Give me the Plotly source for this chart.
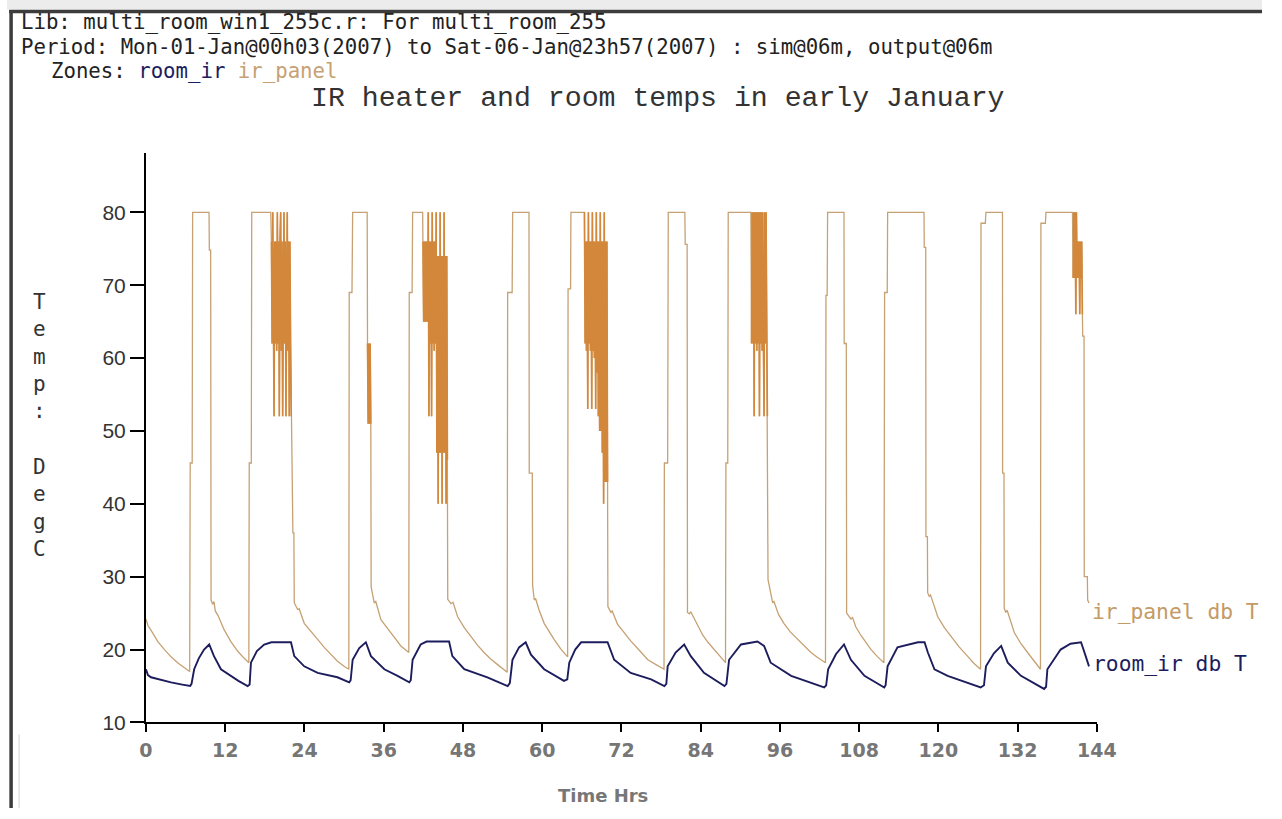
import plotly.graph_objects as go

W, H = 1282, 819
# the photographed page comes out slightly shrunk; positions below are wanted picture pixels,
# px()/py() undo that shrink (measured from earlier renders)
SX, AX = 0.98, 5.9
SY, AY = 0.988, -0.5

# output timestep (hours) used inside the oscillating stretches of ir_panel
STEP = 0.1

x_ticks = [0, 12, 24, 36, 48, 60, 72, 84, 96, 108, 120, 132, 144]
y_ticks = [10, 20, 30, 40, 50, 60, 70, 80]

# ir_panel db T, hours / degC (smooth parts + steps)
panel_env = [
    (0.0, 24.2), (0.3, 23.3), (0.8, 22.6), (1.8, 21.1), (2.8, 20.0), (3.8, 19.0), (4.8, 18.2), (5.8, 17.5), (6.62, 17.0),
    (6.7, 45.6), (7.0, 45.6), (7.07, 80.0), (9.55, 80.0), (9.6, 74.8), (9.8, 74.8), (9.86, 26.8), (10.1, 26.2), (10.3, 26.6),
    (10.5, 25.3), (10.9, 24.7), (11.85, 22.7), (12.86, 21.1), (13.87, 19.8), (14.88, 18.8), (15.58, 18.2),
    (15.64, 45.6), (15.95, 45.6), (16.02, 80.0), (18.9, 80.0),
    (22.25, 36.0), (22.4, 36.0), (22.46, 26.4), (22.97, 25.5), (23.2, 25.6), (23.97, 23.6), (25.0, 22.4), (26.0, 21.4),
    (27.0, 20.3), (28.0, 19.3), (29.0, 18.4), (30.0, 17.7), (30.72, 17.3),
    (30.78, 69.0), (31.2, 69.0), (31.3, 80.0), (33.5, 80.0),
    (34.1, 28.6), (34.57, 26.4), (34.8, 26.6), (35.58, 24.1), (37.1, 22.3), (38.6, 20.5), (39.8, 19.6),
    (39.87, 69.0), (40.3, 69.0), (40.38, 80.0), (41.9, 80.0),
    (45.7, 26.9), (46.2, 26.3), (46.5, 26.5), (47.2, 24.5), (48.2, 23.0), (49.2, 21.8), (50.2, 20.6), (51.2, 19.6),
    (52.2, 18.7), (53.3, 17.9), (54.7, 16.9),
    (54.77, 69.0), (55.45, 69.0), (55.53, 80.0), (58.0, 80.0), (58.04, 44.2), (58.5, 44.2), (58.55, 28.8), (58.8, 26.8),
    (59.0, 27.0), (59.5, 25.5), (60.3, 23.6), (61.0, 22.5), (61.8, 21.4), (62.8, 20.1), (63.85, 19.0),
    (63.92, 69.5), (64.3, 69.5), (64.35, 80.0), (66.3, 80.0),
    (69.95, 25.9), (70.4, 25.1), (70.6, 25.3), (71.4, 23.5), (72.4, 22.3), (73.4, 21.2), (74.7, 19.9), (76.0, 18.6),
    (77.3, 17.9), (78.45, 17.3),
    (78.5, 45.6), (79.0, 45.6), (79.09, 80.0), (81.6, 80.0), (81.66, 75.6), (81.95, 75.6), (82.0, 25.1), (82.3, 24.9),
    (82.5, 25.2), (83.5, 23.3), (84.3, 22.0), (85.1, 21.0), (86.6, 19.4), (87.76, 18.2),
    (87.82, 45.6), (88.1, 45.6), (88.17, 80.0), (91.6, 80.0),
    (94.2, 29.6), (94.9, 26.4), (95.1, 26.6), (95.8, 24.8), (96.6, 23.6), (97.6, 22.4), (98.7, 21.4), (99.7, 20.5),
    (100.7, 19.6), (101.7, 18.9), (102.9, 18.2),
    (102.97, 68.6), (103.15, 68.6), (103.22, 80.0), (105.7, 80.0), (105.73, 62.0), (106.05, 62.0), (106.1, 25.0),
    (106.75, 24.2), (107.0, 24.4), (107.5, 23.1), (108.3, 21.9), (109.0, 21.0), (109.8, 20.0), (110.8, 19.0), (111.75, 18.2),
    (111.85, 69.0), (112.25, 69.0), (112.31, 80.0), (117.82, 80.0), (117.85, 75.2), (118.08, 75.2), (118.11, 35.5),
    (118.33, 35.5), (118.37, 27.8), (118.6, 27.3), (118.8, 27.5), (119.9, 24.5), (120.9, 23.0), (121.9, 21.8),
    (123.1, 20.4), (124.4, 19.1), (125.4, 18.1), (126.38, 17.3),
    (126.45, 78.5), (127.1, 78.5), (127.19, 80.0), (129.7, 80.0), (129.72, 44.2), (129.93, 44.2), (129.96, 25.7),
    (130.2, 25.1), (130.4, 25.4), (131.5, 22.3), (132.5, 20.8), (133.5, 19.6), (134.5, 18.4), (135.45, 17.3),
    (135.52, 78.5), (136.2, 78.5), (136.28, 80.0), (140.3, 80.0),
    (141.85, 63.0), (142.05, 63.0), (142.08, 30.0), (142.55, 30.0), (142.6, 26.8), (142.8, 26.4),
]

# heater cycling stretches (one value per output step)
osc_start = [19.0, 33.55, 41.95, 66.4, 91.7, 140.4]
osc_a = [76, 62, 80, 61, 52, 76, 62, 76, 61, 80, 62, 76, 52, 76, 80, 61, 76, 52, 76, 80, 62, 76, 52, 76, 80, 61,
         76, 52, 76, 62, 52]
osc_b = [62, 51, 62, 51, 62, 51]
osc_c = [76, 65, 76, 65, 76, 65, 76, 65, 80, 52, 76, 62, 76, 52, 80, 62, 76, 61, 76, 62, 80, 47, 74, 40, 74, 47,
         80, 47, 74, 40, 74, 47, 80, 47, 74, 40, 74, 46]
osc_d = [80, 62, 76, 61, 76, 53, 80, 62, 76, 61, 76, 53, 80, 61, 76, 60, 76, 53, 80, 58, 76, 52, 76, 50, 80, 50,
         76, 47, 76, 40, 80, 43, 76, 43, 76, 43]
osc_e = [62, 80, 62, 80, 52, 80, 62, 80, 61, 80, 62, 80, 52, 80, 62, 80, 61, 80, 62, 52, 80, 62, 80, 61, 52]
osc_f = [71, 80, 71, 80, 66, 80, 71, 76, 71, 76, 66, 76, 71, 76, 66]
osc_runs = [osc_a, osc_b, osc_c, osc_d, osc_e, osc_f]

# room_ir db T
room = [
    (0.0, 17.3), (0.3, 16.5), (0.76, 16.2), (2.0, 15.9), (3.8, 15.5), (5.5, 15.2), (6.7, 15.0),
    (6.9, 15.3), (7.3, 17.3), (8.0, 18.8), (8.8, 20.0), (9.58, 20.7), (10.3, 19.1), (11.36, 17.3), (12.87, 16.4),
    (14.0, 15.7), (15.4, 15.0),
    (15.7, 15.2), (15.9, 18.2), (16.8, 19.8), (17.9, 20.7), (19.0, 21.0), (21.96, 21.0), (22.46, 19.1), (23.97, 17.7),
    (26.0, 16.8), (29.0, 16.2), (30.78, 15.5),
    (31.0, 15.8), (31.3, 18.6), (32.3, 20.2), (33.3, 21.0), (34.07, 19.1), (36.1, 17.3), (38.1, 16.4), (39.87, 15.5),
    (40.1, 15.8), (40.38, 18.6), (41.6, 20.7), (42.5, 21.1), (45.9, 21.1), (46.4, 19.1), (48.2, 17.3), (51.7, 16.2),
    (54.77, 15.0),
    (55.1, 15.4), (55.5, 18.6), (56.5, 20.3), (57.5, 21.0), (58.3, 19.3), (60.3, 17.3), (63.3, 15.7),
    (63.8, 15.9), (64.1, 18.2), (65.0, 20.0), (65.9, 21.0), (69.9, 21.0), (70.9, 18.6), (73.4, 16.8), (76.5, 15.9),
    (78.5, 15.0),
    (78.8, 15.3), (79.0, 17.7), (80.2, 19.6), (81.5, 20.7), (82.5, 19.1), (84.5, 16.8), (87.6, 15.0),
    (87.9, 15.3), (88.3, 18.6), (90.1, 20.7), (92.6, 21.1), (93.6, 20.5), (94.6, 18.2), (97.7, 16.4), (102.7, 14.8),
    (103.0, 15.1), (103.3, 17.3), (104.5, 19.4), (105.7, 20.7), (106.75, 18.6), (108.8, 16.4), (111.8, 14.8),
    (112.0, 15.1), (112.3, 17.7), (113.8, 20.3), (116.9, 21.0), (117.9, 21.0), (118.4, 19.6), (119.4, 17.3),
    (121.4, 16.4), (126.4, 14.8),
    (126.9, 15.1), (127.2, 17.7), (128.4, 19.5), (129.5, 20.5), (130.5, 18.2), (132.5, 16.4), (136.0, 14.6),
    (136.3, 14.9), (136.5, 17.3), (138.5, 20.0), (140.0, 20.8), (141.6, 21.0), (142.3, 19.1), (142.8, 17.7),
]

TAN = "#c6a173"
ORANGE = "#d2873a"
NAVY = "#1d1d5e"
MONO = "DejaVu Sans Mono"


def px(x):
    return ((x - AX) / SX) / W


def py(y):
    return 1 - ((y - AY) / SY) / H


# merge the smooth envelope with the cycling stretches
osc_pts = []
osc_x, osc_y = [], []
for t0, vals in zip(osc_start, osc_runs):
    run = [(round(t0 + STEP * i, 3), v) for i, v in enumerate(vals)]
    osc_pts += run
    osc_x += [p[0] for p in run] + [None]
    osc_y += [p[1] for p in run] + [None]
panel = sorted(panel_env + osc_pts, key=lambda p: p[0])

fig = go.Figure()
fig.add_trace(go.Scatter(x=[p[0] for p in panel], y=[p[1] for p in panel], mode="lines",
                         line=dict(color=TAN, width=1.3), name="ir_panel db T"))
fig.add_trace(go.Scatter(x=osc_x, y=osc_y, mode="lines", line=dict(color=ORANGE, width=1.6),
                         connectgaps=False, name="ir_panel cycling"))
fig.add_trace(go.Scatter(x=[p[0] for p in room], y=[p[1] for p in room], mode="lines",
                         line=dict(color=NAVY, width=1.9), name="room_ir db T"))

ann = [
    dict(x=px(18), y=py(22), text="Lib: multi_room_win1_255c.r: For multi_room_255",
         font=dict(family=MONO, size=20.7, color="#222")),
    dict(x=px(18), y=py(46.5),
         text="Period: Mon-01-Jan@00h03(2007) to Sat-06-Jan@23h57(2007) : sim@06m, output@06m",
         font=dict(family=MONO, size=20.7, color="#222")),
    dict(x=px(48), y=py(71),
         text="Zones: <span style='color:%s'>room_ir</span> <span style='color:%s'>ir_panel</span>" % (NAVY, TAN),
         font=dict(family=MONO, size=20.7, color="#222")),
    dict(x=px(308), y=py(98), text="IR heater and room temps in early January",
         font=dict(family="Liberation Mono", size=28.2, color="#333")),
    dict(x=px(1090), y=py(612), text="ir_panel db T", font=dict(family=MONO, size=21.3, color="#c49a66")),
    dict(x=px(1091), y=py(664), text="room_ir db T", font=dict(family=MONO, size=21.3, color=NAVY)),
]
for a in ann:
    a.update(xref="paper", yref="paper", xanchor="left", yanchor="middle", showarrow=False)

# stacked y-axis label
for txt, yc in [("T<br>e<br>m<br>p<br>:", 357), ("D<br>e<br>g<br>C", 508)]:
    ann.append(dict(x=px(38), y=py(yc), xref="paper", yref="paper", text=txt, showarrow=False,
                    xanchor="center", yanchor="middle", align="center",
                    font=dict(family=MONO, size=21, color="#333")))
ann.append(dict(x=px(603), y=py(796), xref="paper", yref="paper", text="<b>Time Hrs</b>", showarrow=False,
                xanchor="center", yanchor="middle", font=dict(family="DejaVu Sans", size=18, color="#777")))

# window frame
shapes = [
    dict(type="rect", xref="paper", yref="paper", x0=0, x1=1, y0=py(9), y1=1,
         fillcolor="#ececec", line_width=0, layer="below"),
    dict(type="line", xref="paper", yref="paper", x0=px(8), x1=1, y0=py(11), y1=py(11),
         line=dict(color="#3c3c3c", width=3.5)),
    dict(type="line", xref="paper", yref="paper", x0=px(10), x1=px(10), y0=py(9.5), y1=0,
         line=dict(color="#3c3c3c", width=3.5)),
    dict(type="line", xref="paper", yref="paper", x0=px(18), x1=px(18), y0=py(735), y1=0,
         line=dict(color="#d4d4d4", width=1)),
]

fig.update_layout(
    width=W, height=H, margin=dict(l=0, r=0, t=0, b=0),
    paper_bgcolor="white", plot_bgcolor="white", showlegend=False,
    annotations=ann, shapes=shapes,
    xaxis=dict(domain=[px(145), px(1097)], range=[0, 144], tickvals=x_ticks,
               showline=True, linecolor="black", linewidth=2, showgrid=False, zeroline=False,
               ticks="outside", ticklen=8, tickwidth=2, tickcolor="black", ticklabelstandoff=2,
               tickfont=dict(family="DejaVu Sans", size=19, color="#767676", weight="bold")),
    yaxis=dict(domain=[py(723), py(153)], range=[10, 88.1], tickvals=y_ticks,
               showline=True, linecolor="black", linewidth=2, showgrid=False, zeroline=False,
               ticks="outside", ticklen=14, tickwidth=2, tickcolor="black",
               tickfont=dict(family="Liberation Sans", size=21, color="#333")),
)

fig.write_html("out.html", config={"displayModeBar": False, "responsive": False},
               post_script="document.body.style.margin='0px';document.body.style.overflow='hidden';")
